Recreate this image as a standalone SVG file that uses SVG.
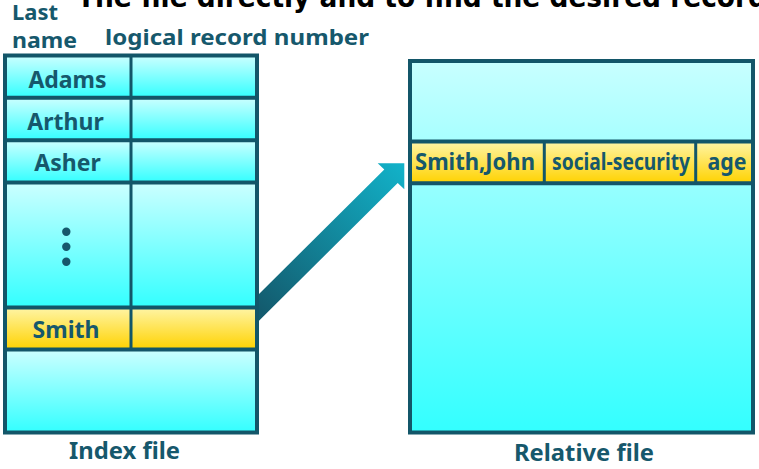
<svg xmlns="http://www.w3.org/2000/svg" width="759" height="469" viewBox="0 0 759 469">
<defs>
<linearGradient id="cy" x1="0" y1="0" x2="0" y2="1"><stop offset="0" stop-color="#CCFFFF"/><stop offset="1" stop-color="#33FFFF"/></linearGradient>
<linearGradient id="cyR" gradientUnits="userSpaceOnUse" x1="0" y1="61" x2="0" y2="432"><stop offset="0" stop-color="#C8FFFF"/><stop offset="1" stop-color="#33FFFF"/></linearGradient>
<linearGradient id="ye" x1="0" y1="0" x2="0" y2="1"><stop offset="0" stop-color="#FFF5A6"/><stop offset="1" stop-color="#FFD200"/></linearGradient>
<linearGradient id="ar" gradientUnits="userSpaceOnUse" x1="260" y1="310" x2="404" y2="165"><stop offset="0" stop-color="#135B6E"/><stop offset="1" stop-color="#12B2C9"/></linearGradient>
</defs>
<style>
.t{font-family:"Noto Sans","Open Sans","DejaVu Sans",sans-serif;font-weight:bold;fill:#16586C;}
.c{text-anchor:middle;font-size:23px;}
.ln{stroke:#135669;stroke-width:4;fill:none;}
.ln2{stroke:#135669;stroke-width:3;fill:none;}
</style>
<text x="77" y="7" font-family="'DejaVu Sans',sans-serif" font-weight="bold" font-size="28" fill="#000" textLength="690" lengthAdjust="spacingAndGlyphs">The file directly and to find the desired record</text>
<text class="t" x="12" y="20" font-size="22" textLength="46" lengthAdjust="spacingAndGlyphs">Last</text>
<text class="t" x="12" y="48" font-size="22" textLength="65" lengthAdjust="spacingAndGlyphs">name</text>
<text class="t" x="105" y="45" font-size="21" textLength="264" lengthAdjust="spacingAndGlyphs">logical record number</text>
<g id="index-file">
<rect x="5" y="55.5" width="252" height="42.2" fill="url(#cy)"/>
<rect x="5" y="97.7" width="252" height="42.6" fill="url(#cy)"/>
<rect x="5" y="140.3" width="252" height="42.2" fill="url(#cy)"/>
<rect x="5" y="182.5" width="252" height="125" fill="url(#cy)"/>
<rect x="5" y="307.5" width="252" height="42" fill="url(#ye)"/>
<rect x="5" y="349.5" width="252" height="83" fill="url(#cy)"/>
<rect class="ln" x="5" y="55.5" width="252" height="377"/>
<path class="ln" d="M5 97.7H257M5 140.3H257M5 182.5H257M5 307.5H257M5 349.5H257"/>
<path class="ln2" d="M131 55.5V349.5"/>
<text class="t c" x="67.5" y="88">Adams</text>
<text class="t c" x="65.5" y="130">Arthur</text>
<text class="t c" x="67.5" y="171">Asher</text>
<circle cx="66.3" cy="231.7" r="4.2" fill="#16586C"/>
<circle cx="66.3" cy="246.7" r="4.2" fill="#16586C"/>
<circle cx="66.3" cy="261.7" r="4.2" fill="#16586C"/>
<text class="t c" x="66" y="338">Smith</text>
<text class="t" x="124.5" y="459" font-size="24" text-anchor="middle" textLength="111" lengthAdjust="spacingAndGlyphs">Index file</text>
</g>
<g id="relative-file">
<rect x="410" y="61" width="343" height="371.5" fill="url(#cyR)"/>
<rect x="410" y="141.5" width="343" height="41.8" fill="url(#ye)"/>
<rect class="ln" x="410" y="61" width="343" height="371.5" stroke-width="4.5"/>
<path class="ln" d="M410 141.5H753M410 183.3H753"/>
<path class="ln2" d="M544.3 141.5V183.3M695.7 141.5V183.3"/>
<text class="t c" x="475" y="169.5" textLength="120" lengthAdjust="spacingAndGlyphs">Smith,John</text>
<text class="t c" x="621" y="169.5" textLength="138" lengthAdjust="spacingAndGlyphs">social-security</text>
<text class="t c" x="727" y="169.5" textLength="39" lengthAdjust="spacingAndGlyphs">age</text>
<text class="t" x="584" y="461" font-size="24" text-anchor="middle" textLength="140" lengthAdjust="spacingAndGlyphs">Relative file</text>
</g>
<g id="connectors">
<polygon points="259,293.9 384.3,169.6 377.7,163.3 404.3,163.3 404.3,189.3 397.7,183 259,320.7" fill="url(#ar)"/>
</g>
</svg>
